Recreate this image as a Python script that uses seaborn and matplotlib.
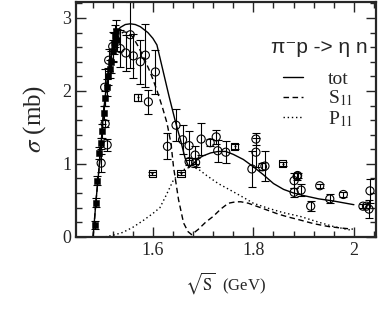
import numpy as np
import pandas as pd
import seaborn as sns
import matplotlib.pyplot as plt
from matplotlib.ticker import MultipleLocator

# model curves
tot_x = [1.481, 1.487, 1.495, 1.502, 1.510, 1.518, 1.525, 1.535, 1.545, 1.555, 1.565, 1.575,
         1.590, 1.600, 1.608, 1.620, 1.632, 1.644, 1.656, 1.664, 1.672, 1.680, 1.690, 1.700,
         1.715, 1.730, 1.745, 1.760, 1.780, 1.800, 1.820, 1.840, 1.860, 1.880, 1.900, 1.930,
         1.960, 2.000]
tot_y = [0.0, 0.51, 1.10, 1.74, 2.20, 2.55, 2.76, 2.87, 2.91, 2.92, 2.91, 2.88,
         2.80, 2.72, 2.63, 2.28, 1.93, 1.60, 1.30, 1.08, 0.95, 1.00, 1.07, 1.11,
         1.15, 1.17, 1.17, 1.13, 1.06, 0.96, 0.85, 0.73, 0.65, 0.60, 0.565, 0.52,
         0.49, 0.44]

s11_x = [1.481, 1.487, 1.495, 1.502, 1.510, 1.518, 1.525, 1.535, 1.542, 1.550, 1.560, 1.570,
         1.581, 1.595, 1.608, 1.620, 1.628, 1.636, 1.641, 1.651, 1.661, 1.670, 1.677, 1.690,
         1.705, 1.720, 1.735, 1.750, 1.765, 1.775, 1.790, 1.810, 1.826, 1.850, 1.870, 1.893,
         1.920, 1.950, 1.975, 1.998]
s11_y = [0.0, 0.51, 1.10, 1.72, 2.18, 2.50, 2.68, 2.78, 2.81, 2.80, 2.74, 2.62,
         2.47, 2.25, 2.01, 1.75, 1.56, 1.28, 0.96, 0.51, 0.19, 0.07, 0.03, 0.10,
         0.20, 0.28, 0.38, 0.46, 0.48, 0.48, 0.46, 0.41, 0.37, 0.31, 0.27, 0.23,
         0.18, 0.14, 0.12, 0.105]

p11_x = [1.505, 1.520, 1.540, 1.560, 1.580, 1.600, 1.614, 1.625, 1.641, 1.661, 1.675, 1.690,
         1.707, 1.730, 1.754, 1.780, 1.800, 1.830, 1.860, 1.893, 1.930, 1.960, 1.995]
p11_y = [0.0, 0.02, 0.06, 0.13, 0.22, 0.32, 0.40, 0.55, 0.78, 0.92, 0.96, 0.93,
         0.84, 0.73, 0.64, 0.54, 0.46, 0.39, 0.33, 0.28, 0.20, 0.14, 0.09]

# data: filled squares
sq_x = [1.485, 1.487, 1.489, 1.493, 1.496, 1.499, 1.502, 1.505, 1.508, 1.511, 1.514,
        1.517, 1.520, 1.522, 1.524, 1.526, 1.528]
sq_y = [0.16, 0.47, 0.77, 1.15, 1.28, 1.45, 1.70, 1.90, 2.05, 2.20, 2.30,
        2.40, 2.55, 2.65, 2.75, 2.82, 2.70]
sq_e = [0.05, 0.06, 0.06, 0.08, 0.08, 0.1, 0.1, 0.1, 0.12, 0.12, 0.12,
        0.15, 0.15, 0.15, 0.15, 0.15, 0.15]

# data: open circles
c_x = [1.497, 1.505, 1.509, 1.504, 1.512, 1.520, 1.535, 1.546, 1.555, 1.561, 1.575, 1.585,
       1.605, 1.591, 1.629, 1.646, 1.659, 1.672, 1.672, 1.684, 1.685, 1.696, 1.714, 1.726,
       1.729, 1.745, 1.797, 1.805, 1.805, 1.818, 1.823, 1.881, 1.881, 1.887, 1.888, 1.895,
       1.914, 1.932, 1.952, 1.979, 2.018, 2.025, 2.030, 2.032]
c_y = [1.01, 1.55, 1.26, 2.05, 2.42, 2.61, 2.58, 2.52, 2.77, 2.48, 2.40, 2.49,
       2.26, 1.85, 1.24, 1.53, 1.33, 1.25, 1.03, 1.12, 1.02, 1.34, 1.29, 1.37,
       1.18, 1.16, 0.93, 1.34, 1.16, 0.96, 0.97, 0.61, 0.77, 0.83, 0.84, 0.64,
       0.42, 0.70, 0.52, 0.58, 0.42, 0.42, 0.38, 0.63]
c_e = [0.12, 0.05, 0.08, 0.25, 0.15, 0.2, 0.25, 0.25, 0.45, 0.3, 0.3, 0.43,
       0.3, 0.16, 0.18, 0.22, 0.2, 0.2, 0.05, 0.12, 0.06, 0.22, 0.05, 0.1,
       0.15, 0.15, 0.25, 0.08, 0.2, 0.05, 0.2, 0.06, 0.1, 0.05, 0.04, 0.08,
       0.07, 0.03, 0.06, 0.03, 0.03, 0.03, 0.12, 0.16]

# data: open squares
os_x = [1.570, 1.599, 1.656, 1.763, 1.858]
os_y = [1.91, 0.87, 0.87, 1.24, 1.00]
os_e = [0.05, 0.02, 0.02, 0.03, 0.03]

sns.set_style("ticks")
plt.rcParams['font.family'] = ['Liberation Serif', 'DejaVu Serif']
plt.rcParams['mathtext.fontset'] = 'stix'

fig = plt.figure(figsize=(3.82, 3.2), dpi=100)
ax = fig.add_axes([0.199, 0.26, 0.784, 0.734])

sns.lineplot(x=tot_x, y=tot_y, ax=ax, color='k', lw=1.0, label='tot', sort=False)
sns.lineplot(x=s11_x, y=s11_y, ax=ax, color='k', lw=1.0, ls=(0, (4, 2.5)), label='S$_{11}$', sort=False)
sns.lineplot(x=p11_x, y=p11_y, ax=ax, color='k', lw=1.0, ls=(0, (1, 2)), label='P$_{11}$', sort=False)

ax.errorbar(sq_x, sq_y, yerr=sq_e, fmt='none', ecolor='k', elinewidth=0.8, capsize=3, capthick=0.8)
ax.errorbar(c_x, c_y, yerr=c_e, fmt='none', ecolor='k', elinewidth=0.8, capsize=3, capthick=0.8)
ax.errorbar(os_x, os_y, yerr=os_e, fmt='none', ecolor='k', elinewidth=0.8, capsize=3, capthick=0.8)

sns.scatterplot(x=sq_x, y=sq_y, ax=ax, marker='s', s=22, color='k', edgecolor='k', zorder=4)
sns.scatterplot(x=c_x, y=c_y, ax=ax, marker='o', s=34, facecolor='none', edgecolor='k', linewidth=0.8, zorder=4)
sns.scatterplot(x=os_x, y=os_y, ax=ax, marker='s', s=26, facecolor='none', edgecolor='k', linewidth=0.8, zorder=4)
sns.scatterplot(x=os_x, y=os_y, ax=ax, marker='.', s=6, color='k', edgecolor='k', zorder=4)

ax.set_xlim(1.447, 2.043)
ax.set_ylim(0, 3.22)
ax.xaxis.set_major_locator(MultipleLocator(0.2))
ax.xaxis.set_minor_locator(MultipleLocator(0.04))
ax.yaxis.set_major_locator(MultipleLocator(1))
ax.yaxis.set_minor_locator(MultipleLocator(0.2))
ax.set_xticks([1.6, 1.8, 2.0])
ax.set_xticklabels(['1.6', '1.8', '2'])
ax.tick_params(which='both', direction='in', top=True, right=True, labelsize=13, width=1.0)
ax.tick_params(which='major', length=7)
ax.tick_params(which='minor', length=4)
for sp in ax.spines.values():
    sp.set_linewidth(1.6)

ax.set_xlabel(r'$\sqrt{\mathrm{S}}$  (GeV)', fontsize=12, labelpad=8)
ax.set_ylabel(r'$\sigma$ (mb)', fontsize=18, labelpad=10)

ax.text(0.975, 0.805, 'π⁻p -> η n', transform=ax.transAxes, ha='right', va='center',
        fontsize=15, family=['Liberation Sans', 'DejaVu Sans'])
leg = ax.legend(loc='upper right', bbox_to_anchor=(0.965, 0.76), frameon=False, fontsize=14,
                handlelength=1.0, handletextpad=1.3, labelspacing=0.05, borderaxespad=0.2)

fig.savefig('out.png', dpi=100)
